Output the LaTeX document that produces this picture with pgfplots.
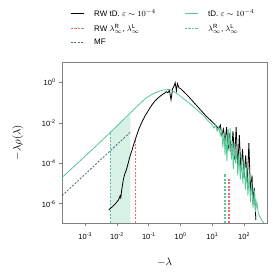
\documentclass[border=0pt]{standalone}
\usepackage{pgfplots}
\pgfplotsset{compat=1.18}
\usepackage{fontspec}
\setmainfont{Liberation Sans}
\definecolor{tdgreen}{HTML}{55C895}
\definecolor{shadegreen}{HTML}{D8F1E5}
\definecolor{rwred}{HTML}{F06868}
\definecolor{mfblue}{HTML}{4C6585}
\definecolor{framegray}{HTML}{808080}
\tikzset{rwdash/.style={draw=rwred, line width=1.5pt, line cap=butt, dash pattern=on 2.2pt off 1.3pt},
         tddash/.style={draw=tdgreen, line width=1.5pt, line cap=butt, dash pattern=on 2.2pt off 1.3pt}}
\begin{document}
\begin{tikzpicture}
\begin{axis}[
  scale only axis, width=205pt, height=161pt,
  xmode=log, ymode=log,
  xmin=1.86e-4, xmax=525, ymin=1.12e-7, ymax=10.5,
  axis line style={framegray, line width=0.6pt},
  tick style={framegray, line width=0.6pt},
  tick align=outside, major tick length=3pt,
  xtick pos=lower, ytick pos=left,
  xminorticks=false, yminorticks=false,
  xtick={1e-3,1e-2,1e-1,1,10,100},
  xticklabels={10\textsuperscript{-3},10\textsuperscript{-2},10\textsuperscript{-1},10\textsuperscript{0},10\textsuperscript{1},10\textsuperscript{2}},
  ytick={1e-6,1e-4,1e-2,1},
  yticklabels={10\textsuperscript{-6},10\textsuperscript{-4},10\textsuperscript{-2},10\textsuperscript{0}},
  tick label style={font=\fontsize{7.5}{8}\selectfont},
  xticklabel style={yshift=-3pt},
  xlabel={$-\lambda$}, ylabel={$-\lambda\rho(\lambda)$},
  label style={font=\fontsize{10.5}{12}\selectfont},
  xlabel style={at={(axis description cs:0.5,-0.242)}, anchor=center},
  ylabel style={at={(axis description cs:-0.215,0.5)}, anchor=center},
  legend columns=2, legend cell align=left,
  legend image code/.code={\draw[#1] (0pt,0pt) -- (13pt,0pt);},
  legend style={draw=none, fill=none, font=\fontsize{8}{9}\selectfont,
    inner sep=0pt, row sep=5.5pt, nodes={inner sep=0.5pt},
    at={(rel axis cs:0,1)}, anchor=north west, xshift=8pt, yshift=53pt,
    /tikz/every odd column/.append style={column sep=9pt},
    /tikz/every even column/.append style={column sep=28pt}},
]
% shaded region under green curve
\addplot[draw=none, fill=shadegreen, forget plot] table[x expr=10^(\thisrow{lx}), y expr=10^(\thisrow{ly})] {
lx ly
-2.21 -8
-2.21 -2.47
-2.0 -2.15
-1.8 -1.84
-1.58 -1.50
-1.58 -8
} -- cycle;
% vertical dashed lines (no legend)
\addplot[rwdash, forget plot] table {
x y
0.0389 1.12e-7
0.0389 1.78e-3
};
\addplot[rwdash, forget plot] table {
x y
33.9 1.12e-7
33.9 1.78e-5
};
\addplot[tddash, forget plot] table {
x y
0.00617 1.12e-7
0.00617 3.16e-3
};
\addplot[tddash, forget plot] table {
x y
25.1 1.12e-7
25.1 3.16e-5
};
% black RW tD
\addplot[black, line width=0.8pt] table[x expr=10^(\thisrow{lx}), y expr=10^(\thisrow{ly})] {
lx ly
-2.26 -6.30
-2.15 -6.15
-2.05 -6.00
-1.95 -5.80
-1.90 -5.60
-1.88 -5.70
-1.85 -5.30
-1.80 -4.80
-1.75 -4.50
-1.70 -4.30
-1.65 -4.00
-1.60 -3.70
-1.50 -3.20
-1.40 -2.70
-1.30 -2.25
-1.20 -1.90
-1.10 -1.60
-1.00 -1.35
-0.90 -1.10
-0.80 -0.90
-0.70 -0.75
-0.60 -0.62
-0.50 -0.52
-0.45 -0.45
-0.40 -0.50
-0.35 -0.38
-0.30 -0.85
-0.25 -0.30
-0.20 -0.15
-0.17 0.00
-0.13 -0.40
-0.10 -0.05
-0.05 -0.25
0.00 -0.30
0.20 -0.60
0.40 -0.95
0.60 -1.30
0.80 -1.65
1.00 -1.95
1.10 -2.10
1.20 -2.30
1.25 -2.10
1.30 -2.60
1.35 -2.30
1.40 -2.90
1.45 -2.20
1.50 -3.30
1.55 -2.50
1.60 -3.60
1.65 -2.40
1.70 -3.80
1.75 -2.20
1.80 -4.20
1.85 -2.60
1.90 -4.40
1.95 -3.30
2.00 -4.70
2.05 -3.60
2.10 -5.00
2.15 -3.00
2.20 -5.40
2.25 -4.60
2.28 -6.00
2.32 -5.20
2.37 -6.80
};
\addlegendentry{RW tD. $\varepsilon\sim10^{-4}$}
% green tD
\addplot[tdgreen, line width=0.8pt] table[x expr=10^(\thisrow{lx}), y expr=10^(\thisrow{ly})] {
lx ly
-3.73 -4.70
-3.20 -3.93
-2.70 -3.20
-2.30 -2.60
-2.00 -2.15
-1.70 -1.68
-1.40 -1.22
-1.10 -0.78
-0.90 -0.58
-0.70 -0.44
-0.55 -0.37
-0.40 -0.34
-0.30 -0.36
-0.10 -0.55
0.10 -0.80
0.30 -1.05
0.50 -1.32
0.70 -1.60
0.90 -1.95
1.00 -2.10
1.05 -2.25
1.10 -2.10
1.15 -2.40
1.20 -2.20
1.25 -2.60
1.30 -2.35
1.33 -3.20
1.37 -2.50
1.40 -3.60
1.43 -2.60
1.46 -3.90
1.50 -2.30
1.53 -3.40
1.56 -2.25
1.60 -3.80
1.63 -2.90
1.66 -4.30
1.70 -3.00
1.73 -4.00
1.77 -3.30
1.80 -4.60
1.84 -3.50
1.88 -4.80
1.92 -3.60
1.96 -5.00
2.00 -3.90
2.04 -5.30
2.08 -4.20
2.12 -5.60
2.16 -4.50
2.20 -5.90
2.24 -4.90
2.28 -6.20
2.32 -5.30
2.36 -6.40
2.40 -5.90
2.45 -6.50
2.55 -6.80
2.62 -6.95
};
\addlegendentry{tD. $\varepsilon\sim10^{-4}$}
\addlegendimage{rwdash}
\addlegendentry{RW $\lambda_\infty^{\mathrm{R}}$, $\lambda_\infty^{\mathrm{L}}$}
\addlegendimage{tddash}
\addlegendentry{$\lambda_\infty^{\mathrm{R}}$, $\lambda_\infty^{\mathrm{L}}$}
% MF
\addplot[draw=mfblue, line width=0.8pt, dash pattern=on 2pt off 1.5pt] coordinates {(1.86e-4,2.51e-6) (0.0263,3.55e-3)};
\addlegendentry{MF}
\end{axis}
\pgfresetboundingbox
\path ([shift={(-62pt,-53pt)}]current axis.south west) rectangle ([shift={(10pt,62pt)}]current axis.north east);
\end{tikzpicture}
\end{document}
